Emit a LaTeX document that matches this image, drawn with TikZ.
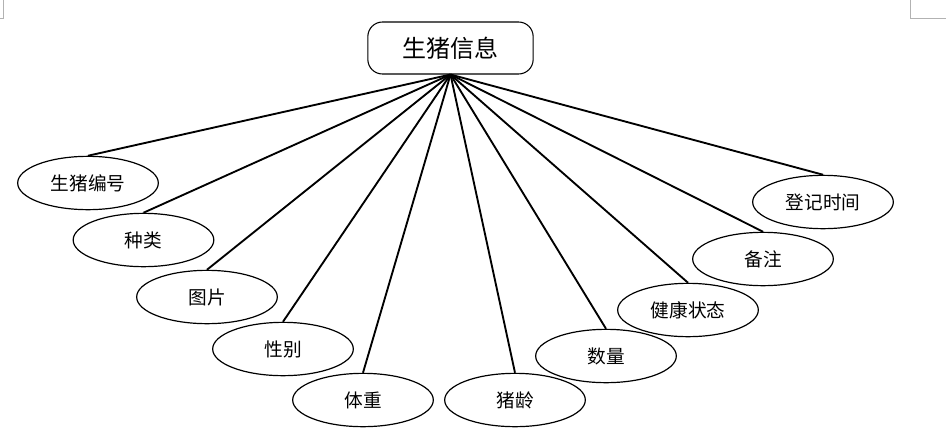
\documentclass[tikz,border=0pt]{standalone}
\usepackage{fontspec}
\setmainfont{Noto Sans CJK SC}
\usetikzlibrary{shapes.geometric}
\tikzset{
  entity/.style={draw, thick, rounded corners=11pt, minimum width=124pt,
    minimum height=39pt, inner sep=0pt, font=\fontsize{18}{21}\selectfont},
  attr/.style={draw, line width=0.9pt, ellipse, minimum width=105.5pt,
    minimum height=40pt, inner sep=0pt, fill=white, font=\fontsize{14}{17}\selectfont},
  link/.style={line width=1.4pt}
}
\begin{document}
\begin{tikzpicture}[x=0.75pt, y=-0.75pt]
  \useasboundingbox (0,0) rectangle (946,436);
  % page corner marks
  \draw[gray!60, line width=0.5pt] (3,0) -- (3,18) -- (0,18)
    (910,0) -- (910,18) -- (946,18);
  \node[entity] (pig) at (450.5,48) {生猪信息};
  \node[attr] (num)  at (88,183)  {生猪编号};
  \node[attr] (kind) at (143.5,240) {种类};
  \node[attr] (pic)  at (207,297) {图片};
  \node[attr] (sex)  at (283,349) {性别};
  \node[attr] (wt)   at (363,400) {体重};
  \node[attr] (age)  at (515,400) {猪龄};
  \node[attr] (cnt)  at (606,356) {数量};
  \node[attr] (hlth) at (688,310) {健康状态};
  \node[attr] (memo) at (763,259) {备注};
  \node[attr] (reg)  at (823,202) {登记时间};
  \foreach \a in {num,kind,pic,sex,wt,age,cnt,hlth,memo,reg}
    \draw[link] (pig.south) -- (\a.north);
\end{tikzpicture}
\end{document}
